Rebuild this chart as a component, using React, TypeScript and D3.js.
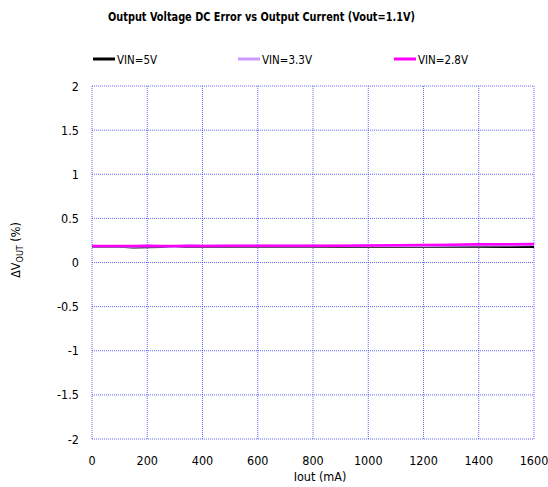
import React from "react";
import * as d3 from "d3";

const currents = [0, 100, 150, 200, 250, 300, 350, 400, 500, 600, 700, 800, 900, 1000, 1100, 1200, 1300, 1400, 1500, 1600];
const vin5 = [0.18, 0.18, 0.172, 0.175, 0.178, 0.18, 0.18, 0.18, 0.18, 0.182, 0.18, 0.18, 0.18, 0.182, 0.18, 0.18, 0.18, 0.18, 0.178, 0.178];
const vin33 = [0.185, 0.185, 0.18, 0.188, 0.185, 0.178, 0.19, 0.186, 0.186, 0.188, 0.186, 0.186, 0.19, 0.19, 0.19, 0.19, 0.194, 0.196, 0.196, 0.2];
const vin28 = [0.188, 0.188, 0.186, 0.19, 0.188, 0.186, 0.19, 0.188, 0.19, 0.19, 0.19, 0.19, 0.19, 0.194, 0.196, 0.198, 0.2, 0.206, 0.206, 0.21];
const seriesNames = ["VIN=5V", "VIN=3.3V", "VIN=2.8V"];
const seriesColors = ["#000000", "#cc99ff", "#ff00ff"];
const xTicks = [0, 200, 400, 600, 800, 1000, 1200, 1400, 1600];
const yTicks = [-2, -1.5, -1, -0.5, 0, 0.5, 1, 1.5, 2];

const FONT = "'Liberation Sans Narrow', 'DejaVu Sans Condensed', 'Open Sans', sans-serif";

export default function App() {
  const W = 548, H = 487;
  const x = d3.scaleLinear().domain([0, 1600]).range([92, 534]);
  const y = d3.scaleLinear().domain([-2, 2]).range([439, 86]);
  const line = d3.line<number>().x((_, i) => x(currents[i])).y((d) => y(d));
  const data = [vin5, vin33, vin28];
  const legendX = [93, 238, 394];
  const legendTextW = [40, 50, 50];
  return (
    <svg width={W} height={H} style={{ position: "absolute", left: 0, top: 0, fontFamily: FONT }}>
      <rect width={W} height={H} fill="#fff" />
      <text x={108} y={21} fontSize={13} fontWeight="bold" fill="#000" textLength={307} lengthAdjust="spacingAndGlyphs">
        Output Voltage DC Error vs Output Current (Vout=1.1V)
      </text>
      {seriesNames.map((n, i) => (
        <g key={n}>
          <line x1={legendX[i]} x2={legendX[i] + 22} y1={59} y2={59} stroke={seriesColors[i]} strokeWidth={3} />
          <text x={legendX[i] + 24} y={64} fontSize={12.5} fill="#000" textLength={legendTextW[i]} lengthAdjust="spacingAndGlyphs">{n}</text>
        </g>
      ))}
      {yTicks.map((t) => (
        <g key={"y" + t}>
          <line x1={92} x2={534} y1={y(t)} y2={y(t)} stroke="#3333ff" strokeWidth={1} strokeDasharray="1,1" opacity={0.75} />
          <text x={79} y={y(t) + 4.5} textAnchor="end" fontSize={12.5} fill="#000">{t}</text>
        </g>
      ))}
      {xTicks.map((t) => (
        <g key={"x" + t}>
          <line x1={x(t)} x2={x(t)} y1={86} y2={439} stroke="#3333ff" strokeWidth={1} strokeDasharray="1,1" opacity={0.75} />
          <text x={x(t)} y={465} textAnchor="middle" fontSize={12.5} fill="#000">{t}</text>
        </g>
      ))}
      <text x={320} y={481} textAnchor="middle" fontSize={12.5} fill="#000">Iout (mA)</text>
      <text transform="translate(20,250) rotate(-90)" textAnchor="middle" fontSize={12.5} fill="#000">
        ΔV<tspan fontSize={9} dy={3}>OUT</tspan><tspan dy={-3}> (%)</tspan>
      </text>
      {data.map((d, i) => (
        <path key={i} d={line(d) || ""} fill="none" stroke={seriesColors[i]} strokeWidth={2.5} />
      ))}
    </svg>
  );
}
